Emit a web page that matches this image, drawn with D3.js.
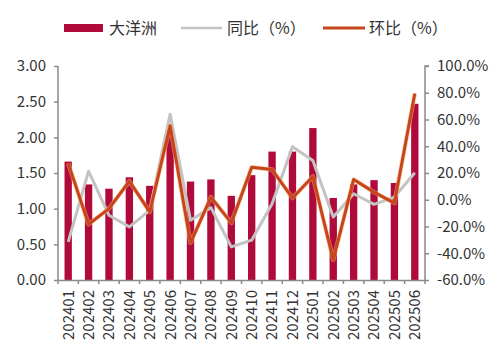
<!DOCTYPE html>
<html>
<head>
<meta charset="utf-8">
<script src="https://cdn.jsdelivr.net/npm/d3@7"></script>
<style>
  body { margin: 0; background: #fff; }
  text { font-family: "Noto Sans CJK SC", "Noto Sans", sans-serif; fill: #333; }
</style>
</head>
<body>
<div id="vis"></div>
<script>
// chart data
const MONTHS = ["202401","202402","202403","202404","202405","202406","202407","202408","202409",
  "202410","202411","202412","202501","202502","202503","202504","202505","202506"];
const OCEANIA = [1.66,1.34,1.28,1.44,1.32,2.08,1.38,1.41,1.18,1.47,1.80,1.80,2.13,1.15,1.34,1.40,1.36,2.47];
const YOY = [-31.5,21.4,-11.6,-20.3,-7.9,64.0,-15.3,-5.9,-35.2,-30.2,-3.0,39.7,29.3,-12.9,4.5,-3.4,2.0,20.2];
const MOM = [27.3,-18.3,-6.6,13.9,-9.1,55.4,-32.2,2.0,-17.3,24.3,22.6,1.3,17.4,-45.0,15.2,5.7,-2.5,79.4];
const LEFT_TICKS = [0,0.5,1,1.5,2,2.5,3];
const RIGHT_TICKS = [-60,-40,-20,0,20,40,60,80,100];
const LEGEND = ["大洋洲", "同比（%）", "环比（%）"];

const FRAME_WIDTH = 500;
const FRAME_HEIGHT = 359;
const PLOT = {left: 58, right: 425, top: 66, bottom: 280};

const BAR_COLOR = "#B00A3A";
const YOY_COLOR = "#C3C3C3";
const MOM_COLOR = "#C8441B";
const AXIS_COLOR = "#8a8a8a";

const svg = d3.select("#vis")
  .append("svg")
  .attr("width", FRAME_WIDTH)
  .attr("height", FRAME_HEIGHT);

const X_SCALE = d3.scaleBand()
  .domain(MONTHS)
  .range([PLOT.left, PLOT.right])
  .paddingInner(0.64)
  .paddingOuter(0.32);

const Y_LEFT = d3.scaleLinear().domain([0, 3]).range([PLOT.bottom, PLOT.top]);
const Y_RIGHT = d3.scaleLinear().domain([-60, 100]).range([PLOT.bottom, PLOT.top]);

// bars
svg.append("g")
  .selectAll("rect")
  .data(OCEANIA)
  .enter()
  .append("rect")
  .attr("x", (d, i) => X_SCALE(MONTHS[i]))
  .attr("y", d => Y_LEFT(d))
  .attr("width", X_SCALE.bandwidth())
  .attr("height", d => Y_LEFT(0) - Y_LEFT(d))
  .attr("fill", BAR_COLOR);

const xc = i => X_SCALE(MONTHS[i]) + X_SCALE.bandwidth() / 2;

// yoy line
svg.append("path")
  .datum(YOY)
  .attr("fill", "none")
  .attr("stroke", YOY_COLOR)
  .attr("stroke-width", 3)
  .attr("stroke-linejoin", "round")
  .attr("d", d3.line().x((d, i) => xc(i)).y(d => Y_RIGHT(d)));

// mom line (with a faint light edge like the original)
const momLine = d3.line().x((d, i) => xc(i)).y(d => Y_RIGHT(d));
svg.append("path")
  .datum(MOM)
  .attr("fill", "none")
  .attr("stroke", "#F2B27A")
  .attr("stroke-opacity", 0.6)
  .attr("stroke-width", 4.5)
  .attr("stroke-linejoin", "round")
  .attr("d", momLine);
svg.append("path")
  .datum(MOM)
  .attr("fill", "none")
  .attr("stroke", MOM_COLOR)
  .attr("stroke-width", 3)
  .attr("stroke-linejoin", "round")
  .attr("d", momLine);

// left axis
const leftAxis = svg.append("g")
  .attr("transform", "translate(" + PLOT.left + ",0)")
  .call(d3.axisLeft(Y_LEFT).tickValues(LEFT_TICKS).tickFormat(d3.format(".2f")).tickSize(4).tickPadding(8));

// right axis
const rightAxis = svg.append("g")
  .attr("transform", "translate(" + PLOT.right + ",0)")
  .call(d3.axisRight(Y_RIGHT).tickValues(RIGHT_TICKS).tickFormat(d => d.toFixed(1) + "%").tickSize(4).tickPadding(8));

// bottom axis with ticks between categories
const bottomAxis = svg.append("g")
  .attr("transform", "translate(0," + PLOT.bottom + ")")
  .call(d3.axisBottom(X_SCALE).tickSize(0).tickPadding(10));

bottomAxis.selectAll("text")
  .attr("transform", "rotate(-90)")
  .attr("text-anchor", "end")
  .attr("x", -10)
  .attr("y", 0)
  .attr("dy", "0.36em");

const step = X_SCALE.step();
const bounds = d3.range(MONTHS.length + 1).map(i => PLOT.left + i * step);
bottomAxis.selectAll(".sep")
  .data(bounds)
  .enter()
  .append("line")
  .attr("class", "sep")
  .attr("x1", d => d)
  .attr("x2", d => d)
  .attr("y1", 0)
  .attr("y2", 4)
  .attr("stroke", AXIS_COLOR)
  .attr("stroke-width", 1.5);

[leftAxis, rightAxis, bottomAxis].forEach(g => {
  g.select(".domain").attr("stroke", AXIS_COLOR).attr("stroke-width", 1.5);
  g.selectAll(".tick line").attr("stroke", AXIS_COLOR).attr("stroke-width", 1.5);
  g.selectAll("text").attr("font-size", "15px").attr("fill", "#333")
    .attr("font-family", "\"Noto Sans CJK SC\", sans-serif");
});
leftAxis.select(".domain").attr("d", "M0," + PLOT.bottom + "V" + PLOT.top);
rightAxis.select(".domain").attr("d", "M0," + PLOT.bottom + "V" + PLOT.top + "h4");

// legend
const legend = svg.append("g").attr("font-size", "16px");
legend.append("rect")
  .attr("x", 64).attr("y", 24).attr("width", 39).attr("height", 8)
  .attr("fill", BAR_COLOR);
legend.append("text").attr("x", 109).attr("y", 34).text(LEGEND[0]);
legend.append("line")
  .attr("x1", 181).attr("x2", 222).attr("y1", 28).attr("y2", 28)
  .attr("stroke", YOY_COLOR).attr("stroke-width", 2.5);
legend.append("text").attr("x", 227).attr("y", 34).text(LEGEND[1]);
legend.append("line")
  .attr("x1", 323).attr("x2", 365).attr("y1", 28).attr("y2", 28)
  .attr("stroke", MOM_COLOR).attr("stroke-width", 3);
legend.append("text").attr("x", 369).attr("y", 34).text(LEGEND[2]);
</script>
</body>
</html>
